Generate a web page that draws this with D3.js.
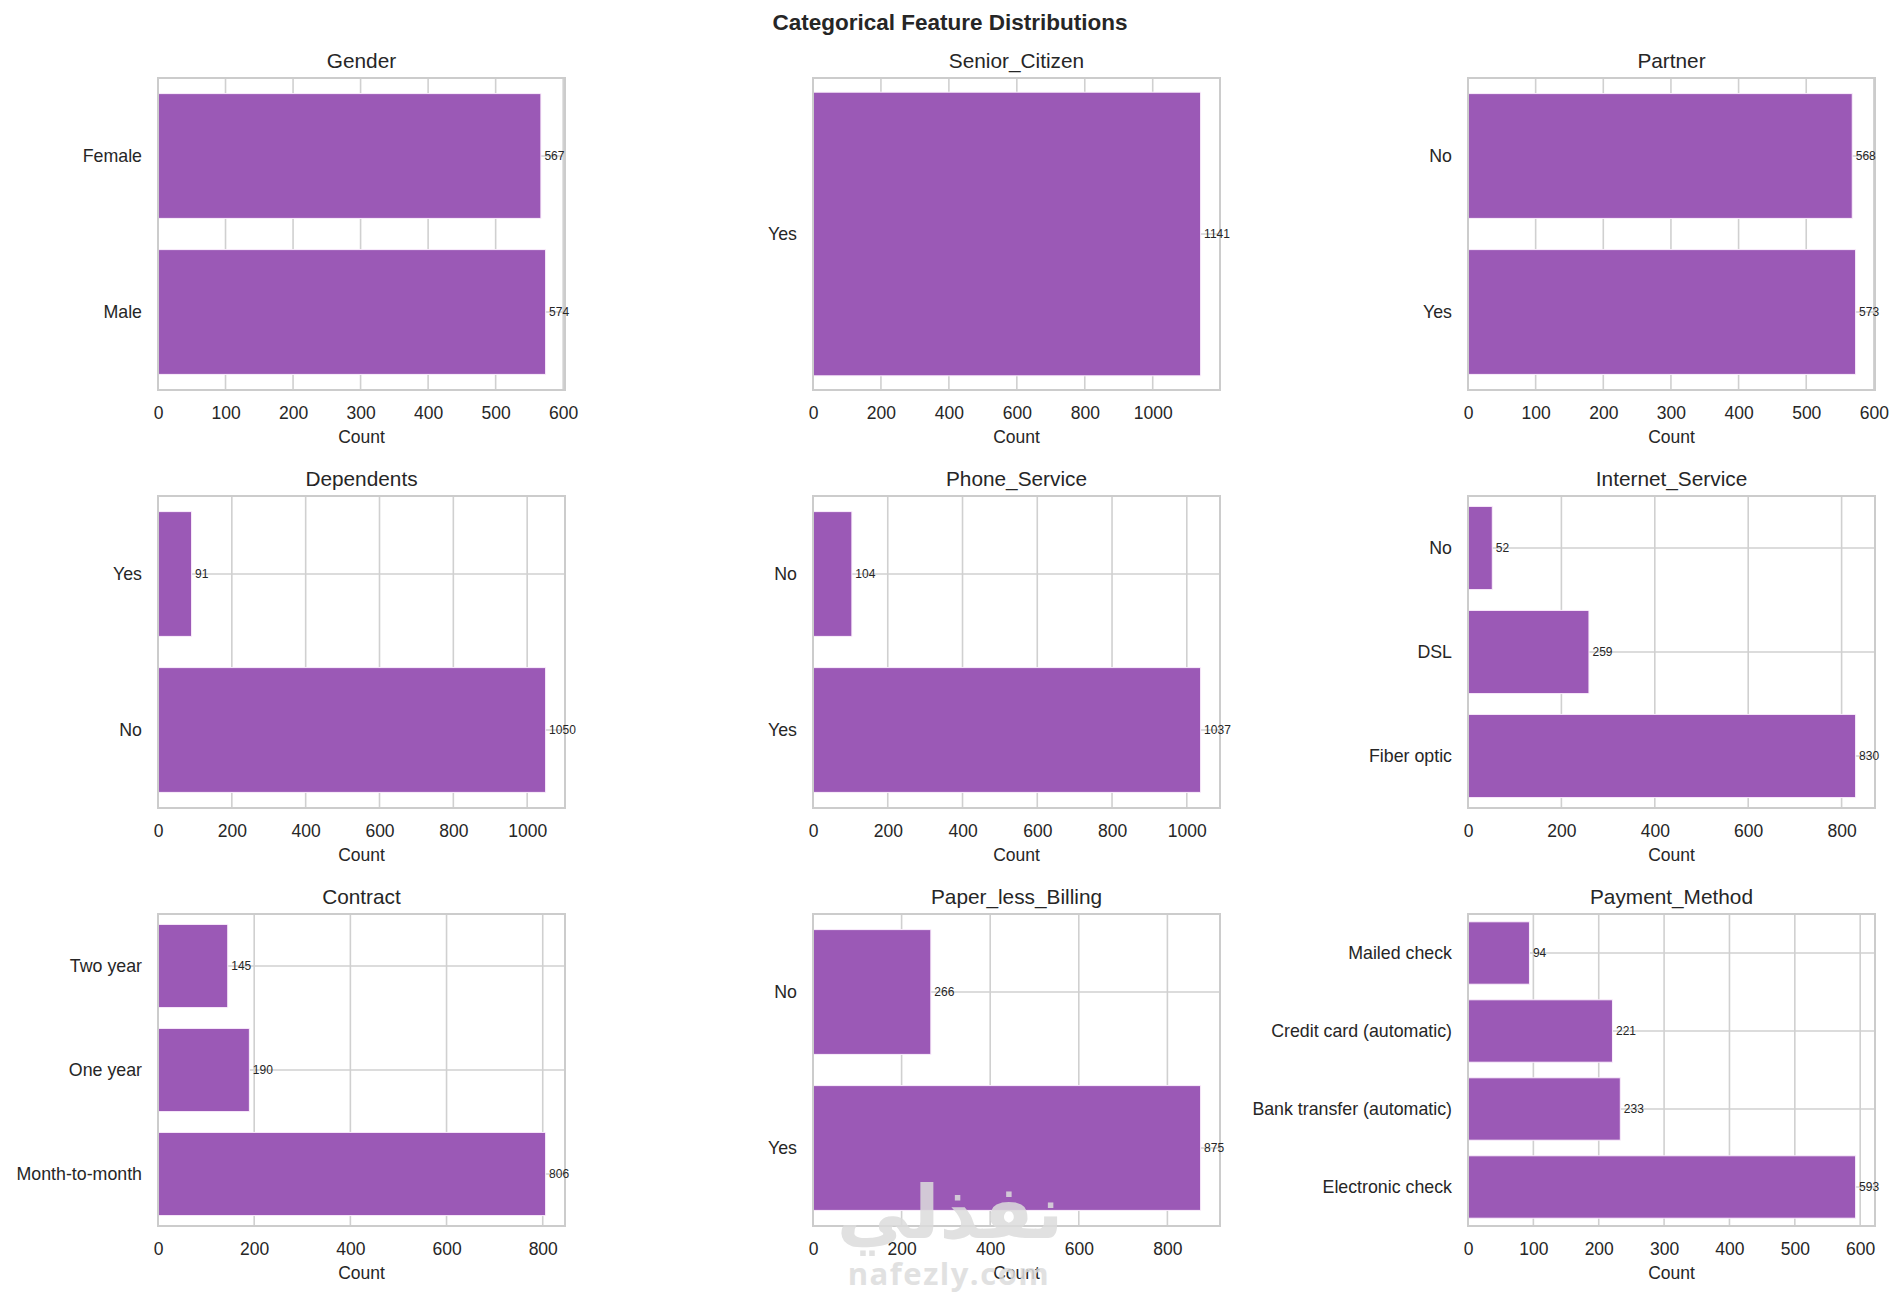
<!DOCTYPE html>
<html>
<head>
<meta charset="utf-8">
<script src="https://cdn.jsdelivr.net/npm/d3@7"></script>
<style>
  body { margin: 0; background: #fff; }
  svg { display: block; }
</style>
</head>
<body>
<div id="chart"></div>
<script>

// features, in subplot order (left to right, top to bottom)
const features = ['Gender', 'Senior_Citizen', 'Partner', 'Dependents', 'Phone_Service',
  'Internet_Service', 'Contract', 'Paper_less_Billing', 'Payment_Method'];

// categories per feature, top to bottom
const categories = [
  ['Female', 'Male'],
  ['Yes'],
  ['No', 'Yes'],
  ['Yes', 'No'],
  ['No', 'Yes'],
  ['No', 'DSL', 'Fiber optic'],
  ['Two year', 'One year', 'Month-to-month'],
  ['No', 'Yes'],
  ['Mailed check', 'Credit card (automatic)', 'Bank transfer (automatic)', 'Electronic check']
];

// counts per category
const counts = [
  [567, 574],
  [1141],
  [568, 573],
  [91, 1050],
  [104, 1037],
  [52, 259, 830],
  [145, 190, 806],
  [266, 875],
  [94, 221, 233, 593]
];

// x tick step per subplot
const tickSteps = [100, 200, 100, 200, 200, 200, 200, 200, 100];

let width = 1900,
    height = 1296,
    cols = [158, 813, 1468],
    rows = [78, 496, 914],
    axW = 407,
    axH = 312,
    purple = '#9b59b6',
    gridGrey = '#d0d0d0',
    spineGrey = '#cccccc',
    ink = '#262626',
    font = '"Liberation Sans", Arial, Helvetica, sans-serif';

let svg = d3.select('#chart').append('svg')
    .attr('width', width)
    .attr('height', height)
    .style('font-family', font);

svg.append('rect').attr('width', width).attr('height', height).attr('fill', '#fff');

// suptitle
svg.append('text')
    .attr('x', width / 2)
    .attr('y', 30)
    .attr('text-anchor', 'middle')
    .attr('fill', ink)
    .style('font-size', '22.5px')
    .style('font-weight', 'bold')
    .text('Categorical Feature Distributions');

features.forEach((name, k) => {
  let cats = categories[k],
      vals = counts[k],
      left = cols[k % 3],
      top = rows[Math.floor(k / 3)],
      single = cats.length == 1;

  let g = svg.append('g').attr('transform', `translate(${left},${top})`);

  let x = d3.scaleLinear()
      .domain([0, d3.max(vals) * 1.05])
      .range([0, axW]);

  // a lone category gets autoscaled limits (5% margin) instead of the +-0.5 band
  let y = d3.scaleBand()
      .domain(cats)
      .range([0, axH])
      .paddingInner(single ? 0 : 0.2)
      .paddingOuter(single ? 0.05 : 0.1);

  let ticks = d3.range(0, x.domain()[1] + 1e-9, tickSteps[k]);

  // vertical grid
  g.append('g')
      .selectAll('line')
      .data(ticks)
      .enter()
      .append('line')
      .attr('x1', d => x(d))
      .attr('x2', d => x(d))
      .attr('y1', 0)
      .attr('y2', axH)
      .attr('stroke', gridGrey)
      .attr('stroke-width', 1.6);

  // horizontal grid at category centers
  g.append('g')
      .selectAll('line')
      .data(cats)
      .enter()
      .append('line')
      .attr('x1', 0)
      .attr('x2', axW)
      .attr('y1', d => y(d) + y.bandwidth() / 2)
      .attr('y2', d => y(d) + y.bandwidth() / 2)
      .attr('stroke', gridGrey)
      .attr('stroke-width', 1.6);

  // bars
  g.append('g')
      .selectAll('rect')
      .data(cats)
      .enter()
      .append('rect')
      .attr('x', 0)
      .attr('y', d => y(d))
      .attr('width', (d, i) => x(vals[i]))
      .attr('height', y.bandwidth())
      .attr('fill', purple)
      .attr('stroke', '#fbeefc')
      .attr('stroke-width', 1);

  // spines
  g.append('rect')
      .attr('x', 0)
      .attr('y', 0)
      .attr('width', axW)
      .attr('height', axH)
      .attr('fill', 'none')
      .attr('stroke', spineGrey)
      .attr('stroke-width', 2);

  // value labels
  g.append('g')
      .selectAll('text')
      .data(cats)
      .enter()
      .append('text')
      .attr('x', (d, i) => x(vals[i]) + 3.5)
      .attr('y', d => y(d) + y.bandwidth() / 2)
      .attr('dy', '0.35em')
      .attr('fill', ink)
      .style('font-size', '12px')
      .text((d, i) => vals[i]);

  // x axis
  let xAxis = g.append('g')
      .attr('transform', `translate(0,${axH})`)
      .call(d3.axisBottom(x).tickValues(ticks).tickSize(0).tickPadding(0).tickFormat(d3.format('d')));
  xAxis.select('.domain').remove();
  xAxis.selectAll('text')
      .attr('y', 29)
      .attr('dy', 0)
      .attr('fill', ink)
      .style('font-family', font)
      .style('font-size', '17.5px');

  // y axis
  let yAxis = g.append('g')
      .call(d3.axisLeft(y).tickSize(0).tickPadding(16));
  yAxis.select('.domain').remove();
  yAxis.selectAll('text')
      .attr('fill', ink)
      .style('font-family', font)
      .style('font-size', '17.8px');

  // axis label
  g.append('text')
      .attr('x', axW / 2)
      .attr('y', axH + 53)
      .attr('text-anchor', 'middle')
      .attr('fill', ink)
      .style('font-size', '17.5px')
      .text('Count');

  // subplot title
  g.append('text')
      .attr('x', axW / 2)
      .attr('y', -10)
      .attr('text-anchor', 'middle')
      .attr('fill', ink)
      .style('font-size', '20.8px')
      .text(name);
});

// site watermark
let mark = svg.append('g').attr('opacity', 0.85).attr('fill', '#dcdcdc');
mark.append('text')
    .attr('x', 950)
    .attr('y', 1238)
    .attr('text-anchor', 'middle')
    .style('font-family', '"DejaVu Sans", sans-serif')
    .style('font-weight', 'bold')
    .style('font-size', '74px')
    .text('نفذلي');
mark.append('text')
    .attr('x', 949)
    .attr('y', 1285)
    .attr('text-anchor', 'middle')
    .style('font-family', '"Open Sans", sans-serif')
    .style('font-weight', 'bold')
    .style('font-size', '31px')
    .style('letter-spacing', '1.5px')
    .text('nafezly.com');

</script>
</body>
</html>
